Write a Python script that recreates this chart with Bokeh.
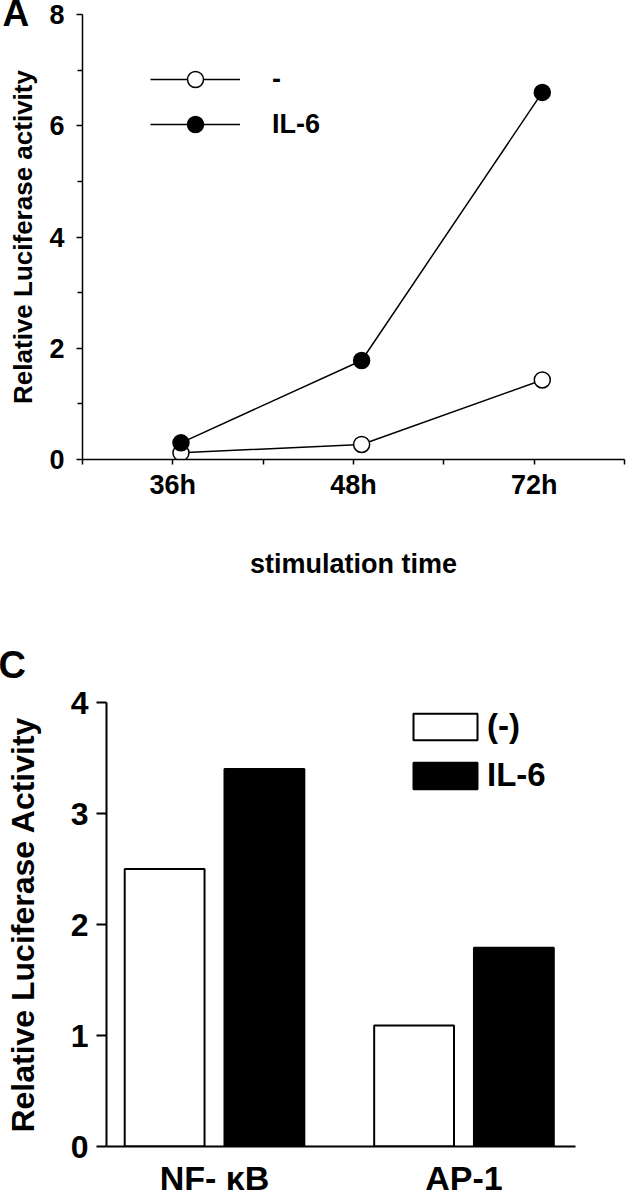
from bokeh.plotting import figure
from bokeh.models import (Range1d, FixedTicker, Legend, LegendItem, Title,
                          ColumnDataSource)
from bokeh.layouts import column
from bokeh.embed import file_html
from bokeh.resources import INLINE
from bokeh.transform import dodge

# ---------------- Panel A data ----------------
times = ["36h", "48h", "72h"]
ctrl_a = [0.12, 0.27, 1.43]
il6_a = [0.30, 1.78, 6.60]
a_yticks = [0, 2, 4, 6, 8]
a_yminor = [1, 3, 5, 7]
a_labels = ["-", "IL-6"]

# ---------------- Panel C data ----------------
constructs = ["NF- \u03baB", "AP-1"]
ctrl_c = [2.50, 1.09]
il6_c = [3.40, 1.79]
c_yticks = [0, 1, 2, 3, 4]
c_labels = ["(-)", "IL-6"]

FONT = "Liberation Sans"


def style_axis(ax, lw, size):
    ax.axis_line_width = lw
    ax.axis_line_color = "black"
    ax.major_tick_line_width = lw
    ax.minor_tick_line_width = lw
    ax.major_tick_line_color = "black"
    ax.minor_tick_line_color = "black"
    ax.major_tick_in = 0
    ax.minor_tick_in = 0
    ax.major_label_text_font = FONT
    ax.major_label_text_font_style = "bold"
    ax.major_label_text_font_size = size
    ax.major_label_text_color = "black"
    ax.axis_label_text_font = FONT
    ax.axis_label_text_font_style = "bold"
    ax.axis_label_text_color = "black"


# ================= Panel A =================
xa = [2 * i + 1 for i in range(len(times))]
xa_minor = [2 * i for i in range(len(times) + 1)]
srcA = ColumnDataSource(dict(x=xa, ctrl=ctrl_a, il6=il6_a))

pA = figure(width=626, height=600, output_backend="svg", toolbar_location=None,
            x_range=Range1d(0, 2 * len(times)), y_range=Range1d(0, max(a_yticks)),
            min_border_left=82, min_border_right=2, min_border_top=14,
            min_border_bottom=141)
pA.frame_align = False
pA.grid.visible = False
pA.outline_line_color = None

xd = dodge("x", 0.09, range=pA.x_range)
lc = pA.line(x=xd, y="ctrl", source=srcA, line_color="black", line_width=1.5)
lc2 = pA.line(x=xd, y="il6", source=srcA, line_color="black", line_width=1.5)
sc = pA.scatter(x=xd, y="ctrl", source=srcA, size=16, fill_color="white",
                line_color="black", line_width=1.5)
sc2 = pA.scatter(x=xd, y="il6", source=srcA, size=16, fill_color="black",
                 line_color="black", line_width=1.5)

legA = Legend(items=[LegendItem(label=a_labels[0], renderers=[lc, sc]),
                     LegendItem(label=a_labels[1], renderers=[lc2, sc2])],
              location=(68, 315), glyph_width=90, glyph_height=40, spacing=5,
              label_standoff=32, padding=0, margin=0, border_line_color=None,
              background_fill_alpha=0, label_text_font=FONT,
              label_text_font_style="bold", label_text_font_size="27px",
              label_text_color="black")
pA.add_layout(legA)

xaxA = pA.xaxis[0]
style_axis(xaxA, 1.5, "27px")
xaxA.ticker = FixedTicker(ticks=xa, minor_ticks=xa_minor)
xaxA.major_label_overrides = {x: t for x, t in zip(xa, times)}
xaxA.major_tick_out = 5
xaxA.minor_tick_out = 5
xaxA.major_label_standoff = 5
xaxA.axis_label = "stimulation time"
xaxA.axis_label_text_font_size = "27px"
xaxA.axis_label_standoff = 46

yaxA = pA.yaxis[0]
style_axis(yaxA, 1.5, "27px")
yaxA.ticker = FixedTicker(ticks=a_yticks, minor_ticks=a_yminor)
yaxA.major_tick_out = 6
yaxA.minor_tick_out = 5
yaxA.major_label_standoff = 12
yaxA.axis_label = "Relative Luciferase activity"
yaxA.axis_label_text_font_size = "26px"
yaxA.axis_label_standoff = 8

pA.add_layout(Title(text="A", align="left", vertical_align="top",
                    offset=-80, standoff=-42, text_font=FONT,
                    text_font_style="bold", text_font_size="37px",
                    text_color="black"), "above")

# ================= Panel C =================
xc = list(range(len(constructs)))
srcC = ColumnDataSource(dict(x=xc, ctrl=ctrl_c, il6=il6_c))

pC = figure(width=626, height=599, output_backend="svg", toolbar_location=None,
            x_range=Range1d(-0.433, len(constructs) - 1 + 0.447),
            y_range=Range1d(0, max(c_yticks)),
            min_border_left=106, min_border_right=51, min_border_top=102,
            min_border_bottom=50)
pC.frame_align = False
pC.grid.visible = False
pC.outline_line_color = None

b1 = pC.vbar(x=dodge("x", -0.2, range=pC.x_range), top="ctrl", width=0.32,
             source=srcC, fill_color="white", line_color="black", line_width=2)
b2 = pC.vbar(x=dodge("x", 0.2, range=pC.x_range), top="il6", width=0.32,
             source=srcC, fill_color="black", line_color="black", line_width=2)

legC = Legend(items=[LegendItem(label=c_labels[0], renderers=[b1]),
                     LegendItem(label=c_labels[1], renderers=[b2])],
              location=(299, 352), glyph_width=80, glyph_height=33, spacing=11,
              label_standoff=2, padding=0, margin=0, border_line_color=None,
              background_fill_alpha=0, label_text_font=FONT,
              label_text_font_style="bold", label_text_font_size="33px",
              label_text_color="black")
pC.add_layout(legC)

xaxC = pC.xaxis[0]
style_axis(xaxC, 2, "34px")
xaxC.ticker = FixedTicker(ticks=xc)
xaxC.major_label_overrides = {x: t for x, t in zip(xc, constructs)}
xaxC.major_tick_out = 0
xaxC.minor_tick_out = 0
xaxC.major_label_standoff = 12

yaxC = pC.yaxis[0]
style_axis(yaxC, 2, "32px")
yaxC.ticker = FixedTicker(ticks=c_yticks)
yaxC.major_tick_out = 10
yaxC.minor_tick_out = 0
yaxC.major_label_standoff = 8
yaxC.axis_label = "Relative Luciferase Activity"
yaxC.axis_label_text_font_size = "32px"
yaxC.axis_label_standoff = 27

pC.add_layout(Title(text="C", align="left", vertical_align="bottom",
                    offset=-108, standoff=34, text_font=FONT,
                    text_font_style="bold", text_font_size="38px",
                    text_color="black"), "above")

layout = column(pA, pC)
open("out.html", "w").write(file_html(layout, INLINE))
